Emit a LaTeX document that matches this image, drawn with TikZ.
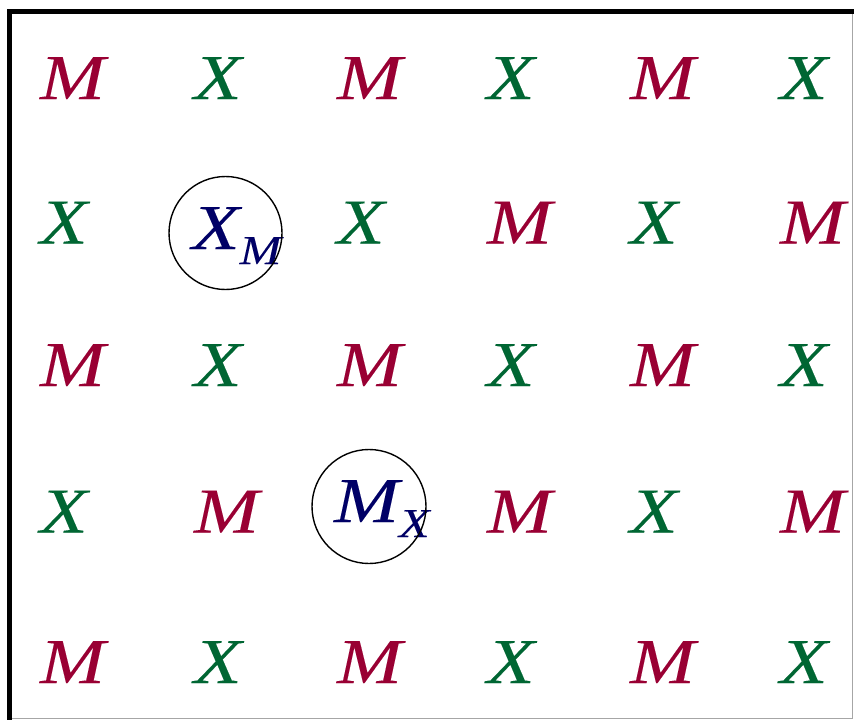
\documentclass[tikz,border=0pt]{standalone}
\usepackage{fontspec}
\setmainfont{Liberation Serif}
\newfontfamily\ionfont[FakeStretch=1.22, FakeBold=0.1]{Liberation Serif}
\definecolor{mred}{HTML}{990033}
\definecolor{xgreen}{HTML}{006633}
\definecolor{navy}{HTML}{000066}
\tikzset{
  site/.style={font=\ionfont\itshape\fontsize{64}{64}\selectfont, anchor=base west, inner sep=0pt, outer sep=0pt},
  mion/.style={site, text=mred},
  xion/.style={site, text=xgreen},
  defect/.style={site, text=navy},
  ring/.style={draw=black, line width=1.4pt, circle, inner sep=0pt, minimum size=#1},
}
\newcommand{\subion}[1]{\raisebox{-15pt}{\fontsize{41}{41}\selectfont #1}}
\begin{document}
\begin{tikzpicture}[x=1pt, y=-1pt]
  \useasboundingbox (0,0) rectangle (854,720);
  % frame: thin grey box with a heavy black edge on the left and top
  \draw[gray!70, line width=1pt] (10,11) rectangle (852.5,718);
  \draw[black, line width=5pt, line join=miter] (9.8,725) -- (9.8,11.5) -- (860,11.5);

  % row 1
  \node[mion] (r1c1) at (40,99)  {M};
  \node[xion] (r1c2) at (194,99) {X};
  \node[mion] (r1c3) at (337,99) {M};
  \node[xion] (r1c4) at (487,99) {X};
  \node[mion] (r1c5) at (630,99) {M};
  \node[xion] (r1c6) at (780,99) {X};
  % row 2
  \node[xion] (r2c1) at (40,243.5)  {X};
  \node[defect] (r2c2) at (192,249) {X\subion{M}};
  \node[xion] (r2c3) at (337,243.5) {X};
  \node[mion] (r2c4) at (487,243.5) {M};
  \node[xion] (r2c5) at (630,243.5) {X};
  \node[mion] (r2c6) at (780,243.5) {M};
  % row 3
  \node[mion] (r3c1) at (40,386)  {M};
  \node[xion] (r3c2) at (194,386) {X};
  \node[mion] (r3c3) at (337,386) {M};
  \node[xion] (r3c4) at (487,386) {X};
  \node[mion] (r3c5) at (630,386) {M};
  \node[xion] (r3c6) at (780,386) {X};
  % row 4
  \node[xion] (r4c1) at (40,532.5)  {X};
  \node[mion] (r4c2) at (194,532.5) {M};
  \node[defect] (r4c3) at (334,522) {M\subion{X}};
  \node[mion] (r4c4) at (487,532.5) {M};
  \node[xion] (r4c5) at (630,532.5) {X};
  \node[mion] (r4c6) at (780,532.5) {M};
  % row 5
  \node[mion] (r5c1) at (40,683)  {M};
  \node[xion] (r5c2) at (194,683) {X};
  \node[mion] (r5c3) at (337,683) {M};
  \node[xion] (r5c4) at (487,683) {X};
  \node[mion] (r5c5) at (630,683) {M};
  \node[xion] (r5c6) at (780,683) {X};

  % circles marking the antisite defects
  \node[ring=113pt] (ringXM) at (225.5,233) {};
  \node[ring=114pt] (ringMX) at (369,506.5) {};
\end{tikzpicture}
\end{document}
